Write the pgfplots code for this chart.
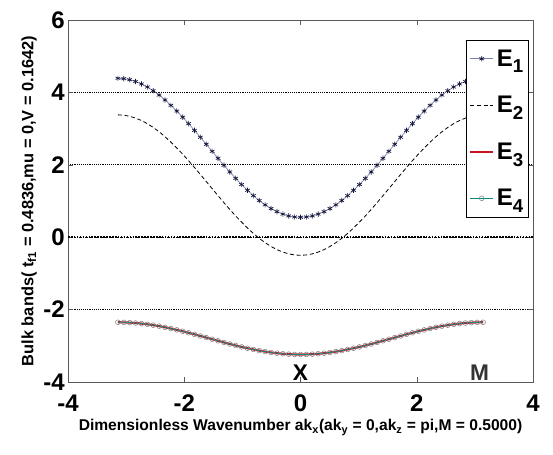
\documentclass[border=0pt]{standalone}
\usepackage{fontspec}
\setmainfont{Liberation Sans}
\usepackage{pgfplots}
\usepackage{pgfplotstable}
\pgfplotsset{compat=1.18}

\definecolor{eonel}{RGB}{120,130,170}
\definecolor{eonem}{RGB}{20,20,60}
\definecolor{ethree}{RGB}{200,20,30}
\definecolor{efour}{RGB}{0,140,130}
\definecolor{efourm}{RGB}{130,130,130}

\newcommand\legsub[1]{\raisebox{-0.55ex}{\fontsize{14}{14}\selectfont #1}}

% k  E1  E2  E3(=E4)
\pgfplotstableread{
k E1 E2 E3
-3.1416 4.390 3.380 -2.350
-3.0403 4.380 3.370 -2.352
-2.9389 4.351 3.340 -2.359
-2.8376 4.302 3.291 -2.370
-2.7362 4.234 3.223 -2.386
-2.6349 4.149 3.136 -2.406
-2.5335 4.046 3.032 -2.430
-2.4322 3.927 2.912 -2.457
-2.3309 3.792 2.776 -2.489
-2.2295 3.644 2.626 -2.523
-2.1282 3.484 2.464 -2.560
-2.0268 3.316 2.294 -2.599
-1.9255 3.137 2.114 -2.640
-1.8242 2.951 1.926 -2.683
-1.7228 2.761 1.734 -2.728
-1.6215 2.567 1.538 -2.772
-1.5201 2.373 1.342 -2.818
-1.4188 2.179 1.146 -2.862
-1.3174 1.989 0.954 -2.907
-1.2161 1.803 0.766 -2.950
-1.1148 1.624 0.586 -2.991
-1.0134 1.456 0.416 -3.030
-0.9121 1.296 0.254 -3.067
-0.8107 1.148 0.104 -3.101
-0.7094 1.013 -0.032 -3.133
-0.6081 0.894 -0.152 -3.160
-0.5067 0.791 -0.256 -3.184
-0.4054 0.706 -0.343 -3.204
-0.3040 0.638 -0.411 -3.220
-0.2027 0.589 -0.460 -3.231
-0.1013 0.560 -0.490 -3.238
0.0000 0.550 -0.500 -3.240
0.1013 0.560 -0.490 -3.238
0.2027 0.589 -0.460 -3.231
0.3040 0.638 -0.411 -3.220
0.4054 0.706 -0.343 -3.204
0.5067 0.791 -0.256 -3.184
0.6081 0.894 -0.152 -3.160
0.7094 1.013 -0.032 -3.133
0.8107 1.148 0.104 -3.101
0.9121 1.296 0.254 -3.067
1.0134 1.456 0.416 -3.030
1.1148 1.624 0.586 -2.991
1.2161 1.803 0.766 -2.950
1.3174 1.989 0.954 -2.907
1.4188 2.179 1.146 -2.862
1.5201 2.373 1.342 -2.818
1.6215 2.567 1.538 -2.772
1.7228 2.761 1.734 -2.728
1.8242 2.951 1.926 -2.683
1.9255 3.137 2.114 -2.640
2.0268 3.316 2.294 -2.599
2.1282 3.484 2.464 -2.560
2.2295 3.644 2.626 -2.523
2.3309 3.792 2.776 -2.489
2.4322 3.927 2.912 -2.457
2.5335 4.046 3.032 -2.430
2.6349 4.149 3.136 -2.406
2.7362 4.234 3.223 -2.386
2.8376 4.302 3.291 -2.370
2.9389 4.351 3.340 -2.359
3.0403 4.380 3.370 -2.352
3.1416 4.390 3.380 -2.350
}\bands

\begin{document}
\begin{tikzpicture}
\begin{axis}[
  scale only axis, width=348.75pt, height=271.5pt,
  xmin=-4, xmax=4, ymin=-4, ymax=6,
  xtick={-4,-2,...,4}, ytick={-4,-2,...,6},
  tick align=inside, major tick length=4pt,
  ymajorgrids, grid style={densely dotted, black, line width=0.5pt},
  axis line style={gray!70!black, line width=0.6pt},
  tick style={gray!70!black},
  /pgf/number format/assume math mode=true,
  ticklabel style={font=\bfseries\fontsize{18}{18}\selectfont},
  xticklabel style={yshift=-6pt},
  yticklabel style={xshift=1pt},
  xlabel style={font=\bfseries\fontsize{11.7}{13}\selectfont, yshift=1pt},
  ylabel style={font=\bfseries\fontsize{12.3}{14}\selectfont, yshift=-2pt},
  xlabel={Dimensionless Wavenumber ak\textsubscript{x}(ak\textsubscript{y} = 0,ak\textsubscript{z} = pi,M = 0.5000)},
  ylabel={Bulk bands( t\textsubscript{f1} = 0.4836,mu = 0,V = 0.1642)},
  legend style={at={(0.991,0.945)}, anchor=north east, draw=black, fill=white,
    font=\bfseries\fontsize{18}{20}\selectfont, row sep=17pt, inner xsep=2pt, inner ysep=5pt},
  legend cell align=left,
]
\addplot[black, line width=1.2pt, densely dotted, forget plot] coordinates {(-4,0) (4,0)};
\addplot[eonel, line width=0.5pt, mark=asterisk, mark size=2pt,
  mark options={eonem, line width=0.5pt}] table[x=k, y=E1] {\bands};
\addplot[black, densely dashed, line width=0.6pt] table[x=k, y=E2] {\bands};
\addplot[ethree, line width=1.6pt] table[x=k, y=E3] {\bands};
\addplot[efour, line width=0.6pt, mark=o, mark size=1.8pt,
  mark options={efourm, line width=0.4pt}] table[x=k, y=E3] {\bands};
\legend{E\legsub{1},E\legsub{2},E\legsub{3},E\legsub{4}}
\node[font=\bfseries\fontsize{17}{17}\selectfont] at (axis cs:0,-3.75) {X};
\node[font=\bfseries\fontsize{17}{17}\selectfont, text=black!80] at (axis cs:3.08,-3.75) {M};
\end{axis}
\pgfresetboundingbox
\path[use as bounding box] ([shift={(-51pt,-54pt)}]current axis.south west)
  rectangle ([shift={(15pt,15pt)}]current axis.north east);
\end{tikzpicture}
\end{document}
